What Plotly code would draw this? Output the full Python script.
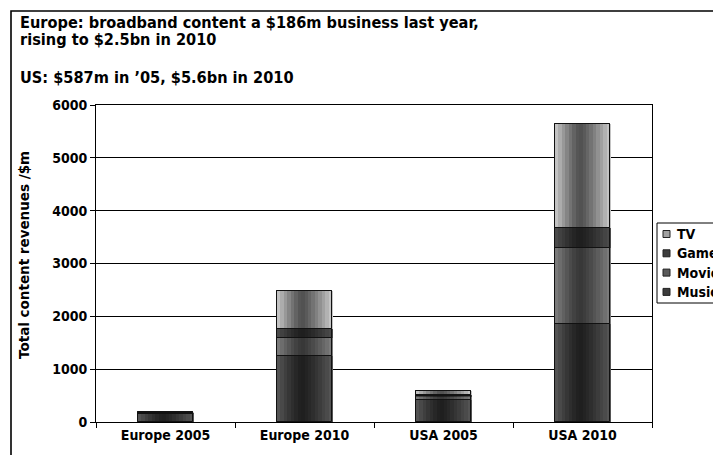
import numpy as np
import plotly.graph_objects as go

# ---------------- data ----------------
categories = ["Europe 2005", "Europe 2010", "USA 2005", "USA 2010"]
series_names = ["Music", "Movies", "Games", "TV"]
music = [155, 1245, 420, 1860]
movies = [12, 340, 65, 1435]
games = [12, 180, 30, 385]
tv = [7, 720, 72, 1965]
y_ticks = [0, 1000, 2000, 3000, 4000, 5000, 6000]
title_lines = [
    "Europe: broadband content a $186m business last year,",
    "rising to $2.5bn in 2010",
    "US: $587m in \u201905, $5.6bn in 2010",
]
y_title = "Total content revenues /$m"

# ---------------- style ----------------
WIN_W, WIN_H = 721, 463
OFF = 8                      # page margin around the figure
W, H = WIN_W - OFF, WIN_H - 2 * OFF
PLOT_L, PLOT_R, PLOT_T, PLOT_B = 96, 652, 105, 422   # plot area in window pixels
L = PLOT_L - OFF
T = PLOT_T - OFF
PW = PLOT_R - PLOT_L
PH = PLOT_B - PLOT_T
R = W - L - PW
B = H - T - PH
HFONT = "DejaVu Sans Condensed, DejaVu Sans, sans-serif"
VFONT = "DejaVu Sans, sans-serif"

def px_x(p):
    return (p - PLOT_L) / PW

def px_y(p):
    return (PLOT_B - p) / PH

# (edge colour, centre colour) for the cylinder-like gradient
shades = {
    "Music": ((88, 88, 88), (30, 30, 30)),
    "Movies": ((128, 128, 128), (55, 55, 55)),
    "Games": ((78, 78, 78), (30, 30, 30)),
    "TV": ((205, 205, 205), (80, 80, 80)),
}
legend_col = {"Music": "#3c3c3c", "Movies": "#5a5a5a", "Games": "#3c3c3c", "TV": "#a0a0a0"}

values = [music, movies, games, tv]
cum = np.cumsum(np.array(values, dtype=float), axis=0)
bases = np.vstack([np.zeros(len(categories)), cum[:-1]])

BAR_W = 0.4
N = 16
sw = BAR_W / N

fig = go.Figure()
for k, name in enumerate(series_names):
    vals = values[k]
    base = bases[k]
    fig.add_trace(go.Bar(
        x=categories, y=vals, base=base, width=BAR_W, offset=-BAR_W / 2,
        name=name, showlegend=False,
        marker=dict(color=legend_col[name], line=dict(color="#111", width=1)),
        hoverinfo="skip",
    ))
    edge, center = shades[name]
    for i in range(N):
        t = (i + 0.5) / N
        d = (t - 0.45) / (0.55 if t > 0.45 else 0.45)
        f = abs(d) ** 1.3
        c = tuple(int(round(center[j] + (edge[j] - center[j]) * f)) for j in range(3))
        fig.add_trace(go.Bar(
            x=categories, y=vals, base=base, width=sw * 1.08, offset=-BAR_W / 2 + i * sw,
            marker=dict(color="rgb(%d,%d,%d)" % c, line=dict(width=0)),
            showlegend=False, hoverinfo="skip",
        ))
for k, name in enumerate(series_names):
    fig.add_trace(go.Bar(
        x=categories, y=values[k], base=bases[k], width=BAR_W, offset=-BAR_W / 2,
        marker=dict(color="rgba(0,0,0,0)", line=dict(color="#111", width=1)),
        showlegend=False, hoverinfo="skip",
    ))

annotations = []
shapes = []
title_pos = [(10.5, 16.2), (28.5, 16.2), (65.5, 16.2)]
for line, (top, size) in zip(title_lines, title_pos):
    annotations.append(dict(
        text=line, xref="paper", yref="paper", x=px_x(18), y=px_y(top),
        xanchor="left", yanchor="top", showarrow=False,
        font=dict(family=HFONT, size=size, color="black", weight="bold"),
    ))
annotations.append(dict(
    text=y_title, xref="paper", yref="paper", x=px_x(24), y=px_y(255),
    xanchor="center", yanchor="middle", textangle=-90, showarrow=False,
    font=dict(family=VFONT, size=13.5, color="black", weight="bold"),
))

# custom legend (TV on top)
LEG_X, LEG_TOP, LEG_BOT = 657, 223, 303
LEG_ROW0, LEG_STEP = 234, 19.3
shapes.append(dict(
    type="rect", xref="paper", yref="paper",
    x0=px_x(LEG_X), x1=px_x(WIN_W + 30), y0=px_y(LEG_BOT), y1=px_y(LEG_TOP),
    line=dict(color="black", width=1), fillcolor="white", layer="above",
))
for r, name in enumerate(reversed(series_names)):
    cy = LEG_ROW0 + r * LEG_STEP
    shapes.append(dict(
        type="rect", xref="paper", yref="paper",
        x0=px_x(663), x1=px_x(670), y0=px_y(cy + 3.5), y1=px_y(cy - 3.5),
        line=dict(color="#222", width=1), fillcolor=legend_col[name], layer="above",
    ))
    annotations.append(dict(
        text=name, xref="paper", yref="paper", x=px_x(675), y=px_y(cy),
        xanchor="left", yanchor="middle", showarrow=False,
        font=dict(family=HFONT, size=14, color="black", weight="bold"),
    ))

# outer frame
shapes.append(dict(
    type="rect", xref="paper", yref="paper",
    x0=px_x(11), x1=px_x(WIN_W + 40), y0=px_y(WIN_H + 40), y1=px_y(11),
    line=dict(color="black", width=1.6), fillcolor="rgba(0,0,0,0)", layer="above",
))

fig.update_layout(
    width=W, height=H,
    margin=dict(l=L, r=R, t=T, b=B, autoexpand=False),
    paper_bgcolor="white", plot_bgcolor="white",
    barmode="overlay", bargap=0,
    showlegend=False,
    annotations=annotations,
    shapes=shapes,
)
fig.update_xaxes(
    type="category", range=[-0.5, 3.5],
    showline=True, linecolor="black", linewidth=1, mirror=True,
    ticks="outside", tickson="boundaries", ticklen=5, tickcolor="black",
    tickfont=dict(family=HFONT, size=14, color="black", weight="bold"),
    showgrid=False,
)
fig.update_yaxes(
    range=[0, 6000], tickvals=y_ticks,
    showline=True, linecolor="black", linewidth=1, mirror=True,
    ticks="outside", ticklen=5, tickcolor="black",
    tickfont=dict(family=HFONT, size=14, color="black", weight="bold"),
    showgrid=True, gridcolor="black", gridwidth=1, zeroline=False,
)

fig.write_html("out.html")
